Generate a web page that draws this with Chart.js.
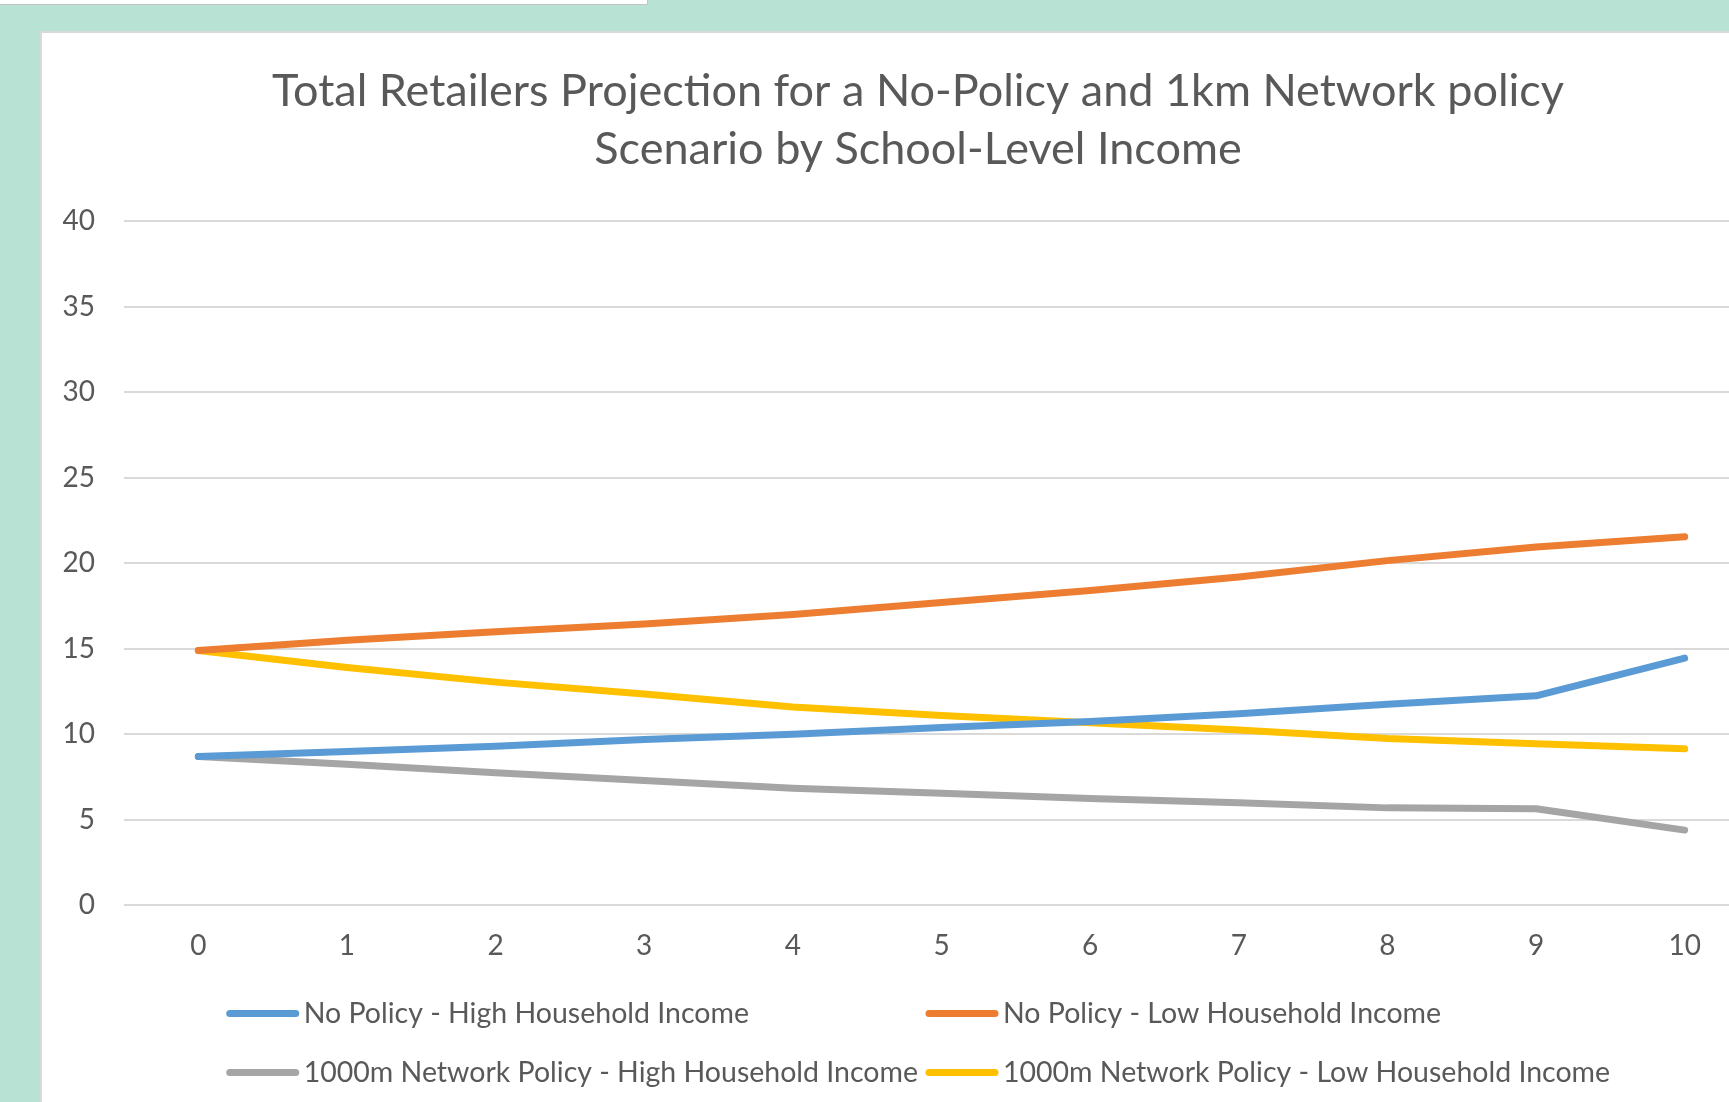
<!DOCTYPE html>
<html>
<head>
<meta charset="utf-8">
<script src="https://cdn.jsdelivr.net/npm/chart.js@4.4.1/dist/chart.umd.min.js"></script>
<style>
    html, body { margin: 0; padding: 0; overflow: hidden; }
    body { width: 1729px; height: 1102px; background: #b7e2d4; position: relative; }
    .topbox { position: absolute; left: 0; top: 0; width: 647px; height: 4px; background: #fff; border-right: 1px solid #c4c4c4; border-bottom: 1px solid #c4c4c4; }
    .card { position: absolute; left: 40px; top: 31px; width: 1752px; height: 1071px; background: #fff; border-left: 2px solid #d9d9d9; border-top: 2px solid #d9d9d9; }
    canvas { display: block; }
</style>
</head>
<body>
<div class="topbox"></div>
<div class="card"><canvas id="lineChart" width="1752" height="1071"></canvas></div>
<script>
const years = ['0', '1', '2', '3', '4', '5', '6', '7', '8', '9', '10'];
const noPolicyHigh = [8.7, 9.0, 9.3, 9.7, 10.0, 10.4, 10.75, 11.2, 11.75, 12.25, 14.45];
const noPolicyLow = [14.9, 15.5, 16.0, 16.45, 17.0, 17.7, 18.4, 19.2, 20.15, 20.95, 21.55];
const networkHigh = [8.7, 8.25, 7.75, 7.3, 6.85, 6.55, 6.25, 6.0, 5.7, 5.65, 4.4];
const networkLow = [14.9, 13.9, 13.05, 12.35, 11.6, 11.1, 10.67, 10.25, 9.75, 9.45, 9.15];
const yTicks = [0, 5, 10, 15, 20, 25, 30, 35, 40];

const textGrey = '#595959';
const fontFamily = 'Lato, "Open Sans", sans-serif';

// Excel-style legend: two fixed-width columns, line sample then label
const excelLegend = {
    id: 'excelLegend',
    afterDraw(chart) {
        const ctx = chart.ctx;
        const sets = chart.data.datasets;
        ctx.save();
        ctx.font = '28.5px ' + fontFamily;
        const lineLen = 72, gap = 5;
        let widest = 0;
        sets.forEach(ds => { widest = Math.max(widest, ctx.measureText(ds.label).width); });
        const colW = lineLen + gap + widest + 8;
        const startX = (chart.width - colW * 2) / 2 + 8;
        sets.forEach((ds, i) => {
            const x = startX + (i % 2) * colW;
            const y = chart.chartArea.bottom + 108 + Math.floor(i / 2) * 59;
            ctx.strokeStyle = ds.borderColor;
            ctx.lineWidth = 7;
            ctx.lineCap = 'round';
            ctx.beginPath();
            ctx.moveTo(x + 3, y);
            ctx.lineTo(x + lineLen - 3, y);
            ctx.stroke();
            ctx.fillStyle = textGrey;
            ctx.textBaseline = 'middle';
            ctx.textAlign = 'left';
            ctx.fillText(ds.label, x + lineLen + gap, y);
        });
        ctx.restore();
    }
};

function series(label, data, color) {
    return {
        label: label,
        data: data,
        borderColor: color,
        backgroundColor: color,
        borderWidth: 7,
        borderCapStyle: 'round',
        borderJoinStyle: 'round',
        pointRadius: 0,
        tension: 0,
        fill: false
    };
}

document.fonts.load('28px Lato').finally(() => {
    const ctx = document.getElementById('lineChart').getContext('2d');
    new Chart(ctx, {
        type: 'line',
        data: {
            labels: years,
            datasets: [
                series('No Policy - High Household Income', noPolicyHigh, '#5b9bd5'),
                series('No Policy - Low Household Income', noPolicyLow, '#ed7d31'),
                series('1000m Network Policy - High Household Income', networkHigh, '#a5a5a5'),
                series('1000m Network Policy - Low Household Income', networkLow, '#ffc000')
            ]
        },
        options: {
            responsive: false,
            animation: false,
            layout: { padding: { left: 0, right: 0, top: 0, bottom: 117 } },
            plugins: {
                legend: { display: false },
                tooltip: { enabled: false },
                title: {
                    display: true,
                    text: ['Total Retailers Projection for a No-Policy and 1km Network policy', 'Scenario by School-Level Income'],
                    color: textGrey,
                    font: { family: fontFamily, size: 45, weight: 'normal', lineHeight: 1.289 },
                    padding: { top: 29, bottom: 43 }
                }
            },
            scales: {
                x: {
                    offset: true,
                    grid: { display: false, drawTicks: false },
                    border: { display: false },
                    ticks: { color: textGrey, font: { family: fontFamily, size: 28 }, padding: 24, maxRotation: 0 }
                },
                y: {
                    min: 0,
                    max: 40,
                    afterBuildTicks: s => { s.ticks = yTicks.map(v => ({ value: v })); },
                    afterFit: s => { s.width = 82; },
                    grid: { color: '#d9d9d9', lineWidth: 2, drawTicks: false },
                    border: { display: false },
                    ticks: { color: textGrey, font: { family: fontFamily, size: 28 }, padding: 29 }
                },
                // empty right margin so the plot area stops where Excel's does
                yRight: {
                    position: 'right',
                    afterFit: s => { s.width = 35; },
                    grid: { display: false },
                    border: { display: false },
                    ticks: { display: false }
                }
            }
        },
        plugins: [excelLegend]
    });
});
</script>
</body>
</html>
